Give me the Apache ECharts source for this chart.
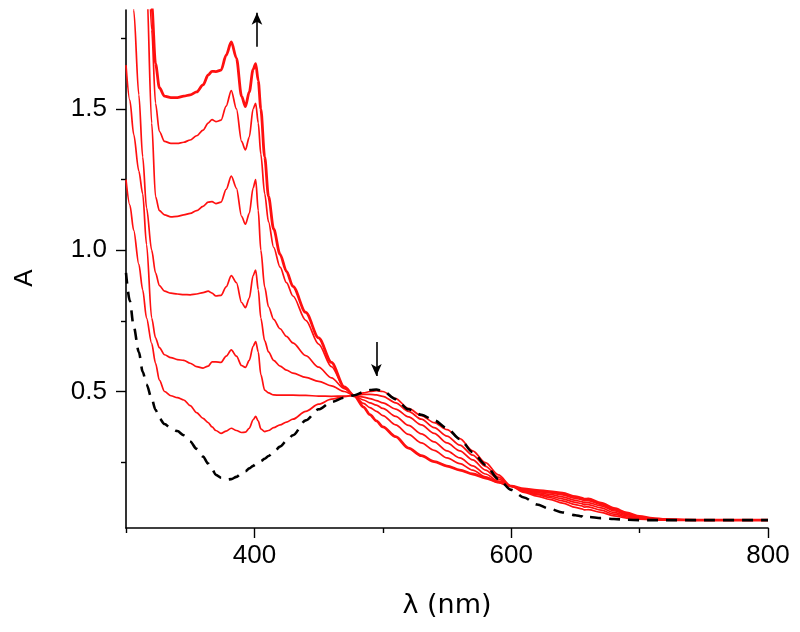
<!DOCTYPE html>
<html>
<head>
<meta charset="utf-8">
<script src="https://cdn.jsdelivr.net/npm/echarts@6/dist/echarts.min.js"></script>
<style>html,body{margin:0;padding:0;background:#fff}#c{width:800px;height:632px}</style>
</head>
<body>
<div id="c"></div>
<script>
// wavelength grid (nm)
var wl = [300,303,306,310,313,316,320,323,326,330,335,340,345,350,355,360,364,367,370,374,378,382,386,390,393,396,399,401,403,405,408,411,415,420,425,430,440,450,460,470,478,485,490,495,500,510,520,530,540,550,560,570,580,590,600,610,620,630,640,650,655,657,660,670,680,690,700,710,720,750,800];

// red spectra, lowest at 383 nm first (curve 6 = thick)
var c1 = [1.25,1.16,1.07,0.95,0.86,0.76,0.67,0.60,0.54,0.50,0.485,0.478,0.47,0.45,0.425,0.405,0.39,0.375,0.362,0.352,0.36,0.37,0.362,0.355,0.356,0.37,0.40,0.412,0.395,0.368,0.358,0.362,0.372,0.382,0.392,0.402,0.43,0.455,0.473,0.482,0.486,0.495,0.50,0.503,0.50,0.475,0.44,0.415,0.39,0.365,0.333,0.29,0.248,0.205,0.165,0.143,0.13,0.118,0.105,0.09,0.085,0.081,0.082,0.072,0.06,0.052,0.048,0.046,0.045,0.045,0.045];
var c2 = [1.655,1.53,1.41,1.28,1.20,1.02,0.76,0.69,0.655,0.63,0.62,0.613,0.61,0.60,0.588,0.583,0.59,0.605,0.605,0.603,0.625,0.647,0.625,0.592,0.585,0.61,0.66,0.677,0.64,0.56,0.505,0.495,0.488,0.487,0.487,0.487,0.486,0.484,0.483,0.484,0.486,0.49,0.49,0.488,0.483,0.46,0.43,0.402,0.372,0.342,0.31,0.275,0.235,0.197,0.165,0.146,0.135,0.125,0.113,0.10,0.095,0.091,0.092,0.08,0.066,0.056,0.05,0.047,0.045,0.045,0.045];
var c3 = [2.5,2.2,1.85,1.55,1.33,1.15,1.0,0.92,0.875,0.855,0.848,0.845,0.843,0.842,0.845,0.85,0.855,0.848,0.838,0.84,0.87,0.91,0.885,0.815,0.797,0.83,0.91,0.93,0.86,0.76,0.68,0.64,0.61,0.59,0.576,0.565,0.55,0.536,0.52,0.50,0.485,0.48,0.475,0.468,0.46,0.438,0.41,0.382,0.352,0.318,0.29,0.258,0.222,0.19,0.165,0.148,0.138,0.13,0.12,0.108,0.103,0.099,0.1,0.088,0.072,0.06,0.052,0.048,0.046,0.045,0.045];
var c4 = [3.5,3.2,2.9,2.5,2.25,1.95,1.45,1.19,1.14,1.125,1.118,1.12,1.125,1.13,1.14,1.155,1.17,1.172,1.165,1.17,1.215,1.262,1.22,1.12,1.092,1.13,1.22,1.25,1.14,1.0,0.87,0.80,0.755,0.722,0.695,0.672,0.627,0.586,0.548,0.51,0.485,0.47,0.46,0.452,0.44,0.412,0.38,0.35,0.322,0.29,0.265,0.237,0.208,0.183,0.165,0.15,0.142,0.136,0.127,0.115,0.11,0.106,0.107,0.095,0.078,0.064,0.054,0.049,0.046,0.045,0.045];
var c5 = [4.0,3.7,3.4,3.0,2.6,2.2,1.78,1.52,1.42,1.385,1.378,1.378,1.382,1.39,1.405,1.425,1.45,1.462,1.455,1.46,1.51,1.565,1.50,1.385,1.355,1.40,1.50,1.52,1.45,1.34,1.20,1.10,1.01,0.94,0.885,0.838,0.752,0.668,0.588,0.515,0.484,0.458,0.443,0.43,0.415,0.382,0.348,0.318,0.292,0.265,0.245,0.222,0.198,0.178,0.165,0.152,0.146,0.141,0.134,0.122,0.117,0.113,0.114,0.10,0.082,0.067,0.056,0.05,0.046,0.045,0.045];
var c6 = [4.5,4.2,3.9,3.4,3.0,2.5,1.87,1.66,1.575,1.545,1.54,1.54,1.545,1.55,1.56,1.585,1.62,1.633,1.632,1.637,1.69,1.737,1.68,1.545,1.508,1.56,1.64,1.66,1.60,1.50,1.33,1.19,1.075,0.985,0.925,0.872,0.78,0.69,0.603,0.516,0.484,0.445,0.418,0.396,0.375,0.34,0.30,0.273,0.252,0.236,0.222,0.208,0.194,0.179,0.165,0.155,0.15,0.146,0.14,0.128,0.123,0.119,0.12,0.105,0.086,0.07,0.058,0.051,0.047,0.045,0.045];
// dashed black spectrum
var dash = [0.92,0.82,0.73,0.64,0.57,0.525,0.475,0.435,0.405,0.385,0.37,0.36,0.345,0.323,0.297,0.27,0.245,0.225,0.205,0.195,0.188,0.19,0.198,0.21,0.218,0.228,0.237,0.242,0.248,0.254,0.262,0.272,0.285,0.305,0.325,0.345,0.398,0.437,0.463,0.478,0.487,0.498,0.505,0.507,0.502,0.473,0.437,0.418,0.398,0.37,0.332,0.285,0.24,0.19,0.152,0.125,0.10,0.085,0.072,0.062,0.058,0.052,0.056,0.052,0.049,0.046,0.045,0.045,0.045,0.045,0.045];

// tick positions
var xMajor = [400,600,800];
var xMinor = [300,500,700];
var yMajor = [0.5,1.0,1.5];
var yMinor = [0.25,0.75,1.25,1.75];
// arrow annotations [start, end]
var arrowUp = [[402,1.72],[402,1.84]];
var arrowDown = [[495,0.675],[495,0.555]];

function pairs(v){ return wl.map(function(x,i){ return [x, v[i]]; }); }

var FONT = 'Liberation Sans, Arial, sans-serif';
var curves = [c1,c2,c3,c4,c5,c6];
var series = curves.map(function(v,i){
  return {
    type:'line', data:pairs(v), showSymbol:false, smooth:0.3, smoothMonotone:'x',
    lineStyle:{color:'#ff1010', width: i===5 ? 2.8 : 1.7}, z:2
  };
});
series.push({
  type:'line', data:pairs(dash), showSymbol:false, smooth:0.3, smoothMonotone:'x',
  lineStyle:{color:'#000', width:2.6, type:[11,8]}, z:3,
  markLine:{
    silent:true, symbol:['none','arrow'], symbolSize:[8,12],
    label:{show:false}, lineStyle:{color:'#000', width:1.6, type:'solid'},
    data:[
      [{coord:arrowUp[0]},{coord:arrowUp[1]}],
      [{coord:arrowDown[0]},{coord:arrowDown[1]}]
    ]
  }
});

var chart = echarts.init(document.getElementById('c'), null, {renderer:'canvas'});
chart.setOption({
  animation:false,
  backgroundColor:'#fff',
  grid:{left:126, right:32, top:10, bottom:104},
  xAxis:[{
    type:'value', min:300, max:800, interval:100, position:'bottom',
    name:'λ (nm)', nameLocation:'middle', nameGap:64,
    nameTextStyle:{fontFamily:'DejaVu Sans, sans-serif', fontSize:27, color:'#000'},
    axisLine:{show:true, lineStyle:{color:'#000', width:1.6}},
    axisTick:{show:true, customValues:xMajor, length:10, lineStyle:{color:'#000', width:1.4}},
    axisLabel:{customValues:xMajor, margin:15, fontFamily:FONT, fontSize:26, color:'#000'},
    splitLine:{show:false}
  },{
    type:'value', min:300, max:800, interval:100, position:'bottom',
    axisLine:{show:false},
    axisTick:{show:true, customValues:xMinor, length:5, lineStyle:{color:'#000', width:1.4}},
    axisLabel:{show:false}, splitLine:{show:false}
  }],
  yAxis:[{
    type:'value', min:0.017, max:1.85, position:'left',
    name:'A', nameLocation:'middle', nameGap:88, nameRotate:90,
    nameTextStyle:{fontFamily:FONT, fontSize:26, color:'#000', padding:[0,18,0,0]},
    axisLine:{show:true, lineStyle:{color:'#000', width:1.6}},
    axisTick:{show:true, customValues:yMajor, length:10, lineStyle:{color:'#000', width:1.4}},
    axisLabel:{customValues:yMajor, margin:19, fontFamily:FONT, fontSize:26, color:'#000',
      formatter:function(v){ return v.toFixed(1); }},
    splitLine:{show:false}
  },{
    type:'value', min:0.017, max:1.85, position:'left',
    axisLine:{show:false},
    axisTick:{show:true, customValues:yMinor, length:5, lineStyle:{color:'#000', width:1.4}},
    axisLabel:{show:false}, splitLine:{show:false}
  }],
  series:series
});
</script>
</body>
</html>
